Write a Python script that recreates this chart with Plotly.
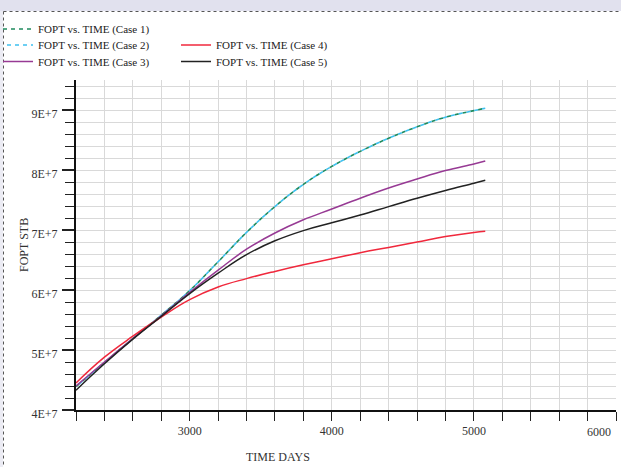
import plotly.graph_objects as go

# ---- data ----
days = [2200, 2400, 2600, 2800, 3000, 3200, 3400, 3600, 3800, 4000, 4200, 4400, 4600, 4800, 5000, 5080]
case1 = [4.39e7, 4.79e7, 5.19e7, 5.58e7, 5.99e7, 6.47e7, 6.96e7, 7.39e7, 7.76e7, 8.06e7, 8.31e7, 8.53e7, 8.72e7, 8.88e7, 8.99e7, 9.03e7]
case2 = [4.39e7, 4.79e7, 5.19e7, 5.58e7, 5.99e7, 6.47e7, 6.96e7, 7.39e7, 7.76e7, 8.06e7, 8.31e7, 8.53e7, 8.72e7, 8.88e7, 8.99e7, 9.03e7]
case3 = [4.40e7, 4.80e7, 5.19e7, 5.57e7, 5.96e7, 6.33e7, 6.68e7, 6.95e7, 7.17e7, 7.35e7, 7.53e7, 7.70e7, 7.85e7, 7.99e7, 8.10e7, 8.15e7]
case4 = [4.45e7, 4.88e7, 5.23e7, 5.55e7, 5.84e7, 6.05e7, 6.19e7, 6.31e7, 6.42e7, 6.52e7, 6.62e7, 6.71e7, 6.80e7, 6.89e7, 6.96e7, 6.98e7]
case5 = [4.33e7, 4.77e7, 5.18e7, 5.56e7, 5.94e7, 6.28e7, 6.59e7, 6.82e7, 6.99e7, 7.12e7, 7.25e7, 7.39e7, 7.53e7, 7.66e7, 7.78e7, 7.83e7]

names = ["FOPT vs. TIME (Case 1)", "FOPT vs. TIME (Case 2)", "FOPT vs. TIME (Case 3)",
         "FOPT vs. TIME (Case 4)", "FOPT vs. TIME (Case 5)"]
y_tickvals = [4e7, 5e7, 6e7, 7e7, 8e7, 9e7]
y_ticktext = ["4E+7", "5E+7", "6E+7", "7E+7", "8E+7", "9E+7"]
x_tickvals = [3000, 4000, 5000, 6000]
x_ticktext = ["3000", "4000", "5000", ""]

FONT = "Liberation Serif"

# ---- layout geometry helpers (pixels -> paper) ----
L, R, T, B = 76, 5, 80, 57
W, H = 621, 467
PW, PH = W - L - R, H - T - B
def px(x):
    return (x - L) / PW
def py(y):
    return (H - B - y) / PH

fig = go.Figure()

styles = [
    dict(color="#1f8a5e", width=1.6, dash="4px,4px"),
    dict(color="#3ec0ef", width=1.6, dash="0px,4px,4px,0px"),
    dict(color="#973a94", width=1.5),
    dict(color="#f0283c", width=1.5),
    dict(color="#222222", width=1.5),
]
series = [case1, case2, case3, case4, case5]
legends = ["legend", "legend2", "legend3", "legend4", "legend5"]
for nm, ys, st, lg in zip(names, series, styles, legends):
    fig.add_trace(go.Scatter(x=days, y=ys, mode="lines", name=nm,
                             line=dict(shape="spline", smoothing=1.2, **st),
                             legend=lg, showlegend=True))

leg_common = dict(font=dict(family=FONT, size=11, color="#222"), bgcolor="rgba(0,0,0,0)",
                  borderwidth=0, xanchor="left", yanchor="middle", itemwidth=30)
# legend box left x (px) and text-center y (px)
leg_pos = [(-2, 29), (-2, 45), (-2, 61.5), (176, 45), (176, 61.5)]
leg_layout = {}
for lg, (lx, ly) in zip(legends, leg_pos):
    leg_layout[lg] = dict(x=px(lx), y=py(ly), **leg_common)

fig.update_layout(
    width=W, height=H,
    margin=dict(l=L, r=R, t=T, b=B, autoexpand=False),
    paper_bgcolor="white", plot_bgcolor="white",
    font=dict(family=FONT, size=12, color="#333"),
    **leg_layout,
    xaxis=dict(range=[2200, 6000], tickvals=x_tickvals, ticktext=x_ticktext,
               showgrid=True, gridcolor="#d9d9d9", gridwidth=1.3,
               ticks="outside", ticklen=9, tickwidth=1.3, tickcolor="#222",
               showline=True, linecolor="#111", linewidth=2, zeroline=False,
               tickfont=dict(family=FONT, size=12, color="#333"),
               minor=dict(dtick=200, tick0=0, showgrid=True, gridcolor="#d9d9d9", gridwidth=1.3,
                          ticks="outside", ticklen=9, tickwidth=1.3, tickcolor="#222")),
    yaxis=dict(range=[4e7, 9.5e7], tickvals=y_tickvals, ticktext=y_ticktext,
               showgrid=True, gridcolor="#d9d9d9", gridwidth=1.3,
               ticks="outside", ticklen=12, tickwidth=1.5, tickcolor="#222",
               showline=True, linecolor="#111", linewidth=2, zeroline=False,
               ticklabelstandoff=2, ticklabelshift=4,
               tickfont=dict(family=FONT, size=12, color="#333"),
               minor=dict(dtick=2e6, tick0=0, showgrid=True, gridcolor="#d9d9d9", gridwidth=1.3,
                          ticks="outside", ticklen=9, tickwidth=1.3, tickcolor="#222")),
    shapes=[
        dict(type="rect", xref="paper", yref="paper", x0=px(-5), x1=px(630), y0=py(11), y1=py(-5),
             fillcolor="#e1e1ee", line=dict(width=0), layer="below"),
        dict(type="rect", xref="paper", yref="paper", x0=px(-5), x1=px(3), y0=py(475), y1=py(11),
             fillcolor="#ececf4", line=dict(width=0), layer="below"),
        dict(type="line", xref="paper", yref="paper", x0=px(3.5), x1=px(625), y0=py(11.5), y1=py(11.5),
             line=dict(color="#555", width=1, dash="dot")),
        dict(type="line", xref="paper", yref="paper", x0=px(3.5), x1=px(3.5), y0=py(11.5), y1=py(470),
             line=dict(color="#555", width=1, dash="dot")),
    ],
    annotations=[
        dict(text="6000", xref="paper", yref="paper", x=px(599), y=py(432), showarrow=False,
             xanchor="center", yanchor="middle", font=dict(family=FONT, size=12, color="#333")),
        dict(text="TIME DAYS", xref="paper", yref="paper", x=px(278), y=py(457), showarrow=False,
             xanchor="center", yanchor="middle", font=dict(family=FONT, size=12, color="#333")),
        dict(text="FOPT STB", xref="paper", yref="paper", x=px(24), y=py(245), showarrow=False,
             textangle=-90, xanchor="center", yanchor="middle", font=dict(family=FONT, size=12, color="#333")),
    ],
)

fig.write_html("out.html")
